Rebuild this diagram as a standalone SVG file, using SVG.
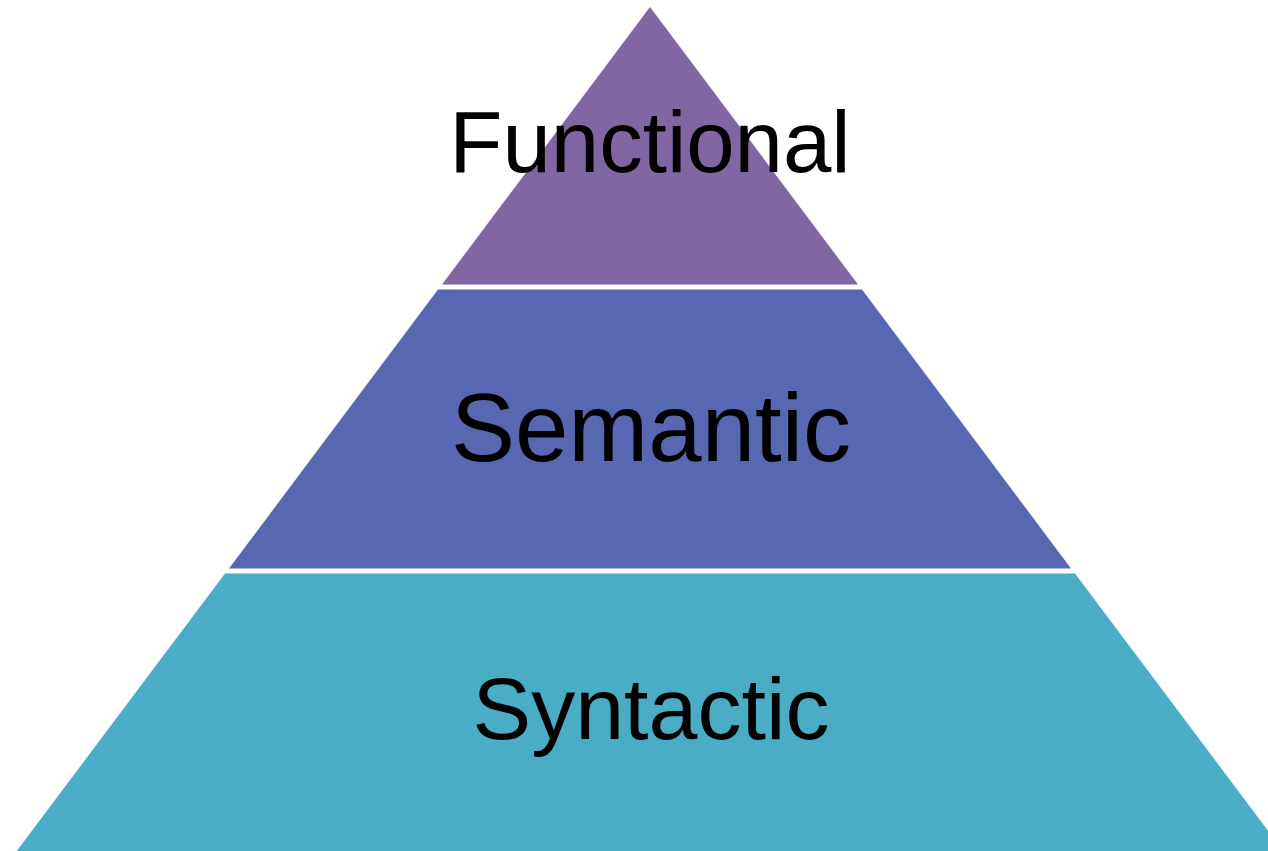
<svg xmlns="http://www.w3.org/2000/svg" width="1268" height="851" viewBox="0 0 1268 851">
<style>
.lbl{font-family:"Liberation Sans",Arial,sans-serif;fill:#000;text-anchor:middle}
</style>
<rect width="1268" height="851" fill="#fff"/>
<g id="syntactic">
<polygon points="225,573.5 1075,573.5 1284,852 16,852" fill="#4BACC6"/>
<text class="lbl" x="651" y="739" font-size="88">Syntactic</text>
</g>
<g id="semantic">
<polygon points="438,289.5 862,289.5 1071,568.5 229,568.5" fill="#5867B2"/>
<text class="lbl" x="651" y="461" font-size="96">Semantic</text>
</g>
<g id="functional">
<polygon points="650,7 858,284.5 442,284.5" fill="#8066A2"/>
<text class="lbl" x="650" y="172" font-size="87">Functional</text>
</g>
<g id="connectors"/>
</svg>
